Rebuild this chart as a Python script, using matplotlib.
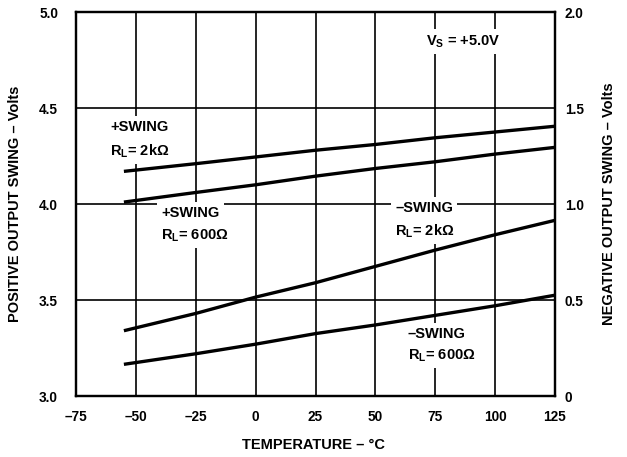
import matplotlib
matplotlib.use("Agg")
import matplotlib.pyplot as plt

plt.rcParams["font.family"] = ["Liberation Sans", "DejaVu Sans"]
plt.rcParams["font.weight"] = "bold"
plt.rcParams["mathtext.fontset"] = "custom"
plt.rcParams["mathtext.rm"] = "Liberation Sans:bold"
plt.rcParams["mathtext.it"] = "Liberation Sans:bold"
plt.rcParams["mathtext.bf"] = "Liberation Sans:bold"

# temperature points, deg C
temp = [-55, -25, 0, 25, 50, 75, 100, 125]

# positive swing (left axis, volts)
pos_2k = [4.17, 4.21, 4.245, 4.28, 4.31, 4.345, 4.375, 4.405]
pos_600 = [4.01, 4.06, 4.10, 4.145, 4.185, 4.22, 4.26, 4.295]

# negative swing (right axis, volts)
neg_2k = [0.34, 0.43, 0.515, 0.59, 0.675, 0.76, 0.84, 0.915]
neg_600 = [0.165, 0.22, 0.27, 0.325, 0.37, 0.42, 0.47, 0.525]

x_ticks = [-75, -50, -25, 0, 25, 50, 75, 100, 125]
x_tick_labels = ["\u201375", "\u201350", "\u201325", "0", "25", "50", "75", "100", "125"]
left_ticks = [3.0, 3.5, 4.0, 4.5, 5.0]
right_ticks = [0, 0.5, 1.0, 1.5, 2.0]
right_tick_labels = ["0", "0.5", "1.0", "1.5", "2.0"]

fig = plt.figure(figsize=(6.27, 4.57), dpi=100)
ax = fig.add_axes([76 / 627, 1 - 396 / 457, (555 - 76) / 627, (396 - 12) / 457])
ax2 = ax.twinx()

ax.set_xlim(-75, 125)
ax.set_ylim(3.0, 5.0)
ax2.set_ylim(0, 2.0)

ax.set_xticks(x_ticks)
ax.set_xticklabels(x_tick_labels)
ax.set_yticks(left_ticks)
ax.set_yticklabels([f"{v:.1f}" for v in left_ticks])
ax2.set_yticks(right_ticks)
ax2.set_yticklabels(right_tick_labels)

tfs = 9.8
ax.tick_params(axis="x", length=0, pad=10, labelsize=tfs)
ax.tick_params(axis="y", length=0, pad=13, labelsize=tfs)
ax2.tick_params(axis="y", length=0, pad=7, labelsize=tfs)
for t in ax.get_yticklabels() + ax2.get_yticklabels():
    t.set_verticalalignment("center_baseline")

ax.grid(True, color="black", linewidth=1.2)
for a in (ax, ax2):
    for s in a.spines.values():
        s.set_linewidth(1.6)

ax.plot(temp, pos_2k, color="black", linewidth=2.4, solid_capstyle="butt", zorder=4)
ax.plot(temp, pos_600, color="black", linewidth=2.4, solid_capstyle="butt", zorder=4)
ax2.plot(temp, neg_2k, color="black", linewidth=2.4, solid_capstyle="butt", zorder=4)
ax2.plot(temp, neg_600, color="black", linewidth=2.4, solid_capstyle="butt", zorder=4)

box = dict(facecolor="white", edgecolor="none", pad=3)
fs = 10.5


def label(x, y, s, ha="left"):
    ax.text(x, y, s, ha=ha, va="center", fontsize=fs, fontweight="bold",
            bbox=box, zorder=3)


label(-60.8, 4.40, "+SWING")
label(-60.8, 4.275, r"R$_{\mathregular{L}}$= 2k$\Omega$")
label(-39.5, 3.953, "+SWING")
label(-39.5, 3.835, r"R$_{\mathregular{L}}$= 600$\Omega$")
label(71.0, 4.845, r"V$_{\mathregular{S}}$ = +5.0V")
label(58.2, 3.98, "\u2013SWING")
label(58.0, 3.86, r"R$_{\mathregular{L}}$= 2k$\Omega$")
label(63.6, 3.323, "\u2013SWING")
label(63.6, 3.21, r"R$_{\mathregular{L}}$= 600$\Omega$")

fig.text(314 / 627, 1 - 445 / 457, "TEMPERATURE \u2013 \u00b0C", ha="center", va="center",
         fontsize=fs, fontweight="bold")
fig.text(15 / 627, 1 - 204 / 457, "POSITIVE OUTPUT SWING \u2013 Volts", ha="center",
         va="center", rotation=90, fontsize=fs, fontweight="bold")
fig.text(609 / 627, 1 - 204 / 457, "NEGATIVE OUTPUT SWING \u2013 Volts", ha="center",
         va="center", rotation=90, fontsize=fs, fontweight="bold")

fig.savefig("out.png", dpi=100)
